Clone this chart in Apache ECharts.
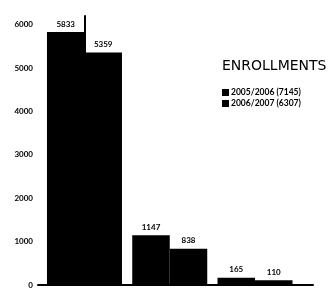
<!DOCTYPE html>
<html>
<head>
<meta charset="utf-8">
<script src="https://cdn.jsdelivr.net/npm/echarts@6/dist/echarts.min.js"></script>
<style>
  html, body { margin: 0; padding: 0; background: #fff; }
  #chart { width: 334px; height: 294px; }
</style>
</head>
<body>
<div id="chart"></div>
<script>
// three groups on the x axis (no labels in the original)
const groups = [0, 1, 2]
const enroll0506 = [5833, 1147, 165]
const enroll0607 = [5359, 838, 110]
const seriesNames = ["2005/2006 (7145)", "2006/2007 (6307)"]
const yTicks = [0, 1000, 2000, 3000, 4000, 5000, 6000]

const labelStyle = {
  show: true,
  position: "top",
  distance: 4,
  color: "#000",
  fontFamily: "Lato",
  fontWeight: "bold",
  fontSize: 8,
}

let chart = echarts.init(document.getElementById("chart"))
let option = {
  animation: false,
  title: {
    text: "ENROLLMENTS",
    left: 217,
    top: 54,
    textStyle: {
      fontFamily: "DejaVu Sans",
      fontWeight: "normal",
      fontSize: 14,
      color: "#000",
    },
  },
  legend: {
    orient: "vertical",
    left: 217,
    top: 83,
    itemWidth: 7,
    itemHeight: 7,
    itemGap: 2,
    icon: "rect",
    data: seriesNames,
    textStyle: {
      fontFamily: "Lato",
      fontWeight: "bold",
      fontSize: 8.5,
      color: "#000",
      padding: [0, 0, 0, -3],
    },
  },
  grid: { left: 38, right: 21, top: 16, bottom: 9 },
  xAxis: {
    type: "value",
    min: -0.545,
    max: 2.68,
    axisLine: { show: true, lineStyle: { color: "#000", width: 2 } },
    axisTick: { show: false },
    axisLabel: { show: false },
    splitLine: { show: false },
  },
  yAxis: {
    type: "value",
    min: 0,
    max: 6200,
    interval: 1000,
    axisLine: { show: true, lineStyle: { color: "#000", width: 2 } },
    axisTick: { show: false },
    splitLine: { show: false },
    axisLabel: {
      margin: 5,
      color: "#000",
      fontFamily: "Lato",
      fontWeight: "bold",
      fontSize: 8,
      formatter: v => (yTicks.indexOf(v) >= 0 ? String(v) : ""),
    },
  },
  series: [
    {
      name: seriesNames[0],
      type: "bar",
      barWidth: 37.5,
      barGap: "0%",
      itemStyle: { color: "#000" },
      label: labelStyle,
      data: groups.map((g, i) => [g, enroll0506[i]]),
    },
    {
      name: seriesNames[1],
      type: "bar",
      barWidth: 37.5,
      barGap: "0%",
      itemStyle: { color: "#000" },
      label: labelStyle,
      data: groups.map((g, i) => [g, enroll0607[i]]),
    },
  ],
}
chart.setOption(option)
</script>
</body>
</html>
